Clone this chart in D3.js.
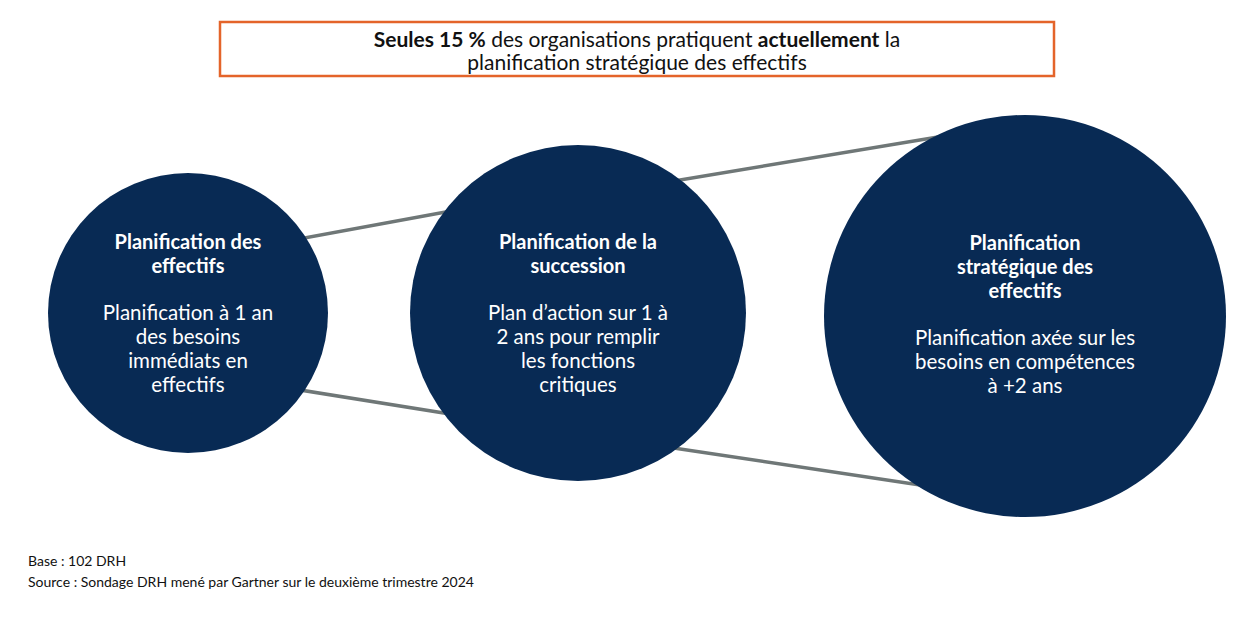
<!DOCTYPE html>
<html><head><meta charset="utf-8">
<script src="https://cdn.jsdelivr.net/npm/d3@7"></script>
<style>body{margin:0;background:#fff}</style></head>
<body><svg id="c" width="1260" height="618"></svg>
<script>
const stages = ["Planification des effectifs","Planification de la succession","Planification stratégique des effectifs"];
const titles = [["Planification des","effectifs"],["Planification de la","succession"],["Planification","stratégique des","effectifs"]];
const bodies = [["Planification à 1 an","des besoins","immédiats en","effectifs"],["Plan d’action sur 1 à","2 ans pour remplir","les fonctions","critiques"],["Planification axée sur les","besoins en compétences","à +2 ans"]];
const horizon = [1,2,3];
const cx=[188,578,1025], cy=[313,313,316], cr=[140,168,201];
const connectors=[[[250,248],[500,202]],[[620,190],[980,130]],[[250,382],[500,422]],[[620,440],[980,494]]];
const svg=d3.select("#c");
const F="Lato, 'Noto Sans', sans-serif";
svg.append("rect").attr("x",220).attr("y",22).attr("width",834).attr("height",54).attr("fill","#fff").attr("stroke","#E4642A").attr("stroke-width",2.5);
const t1=svg.append("text").attr("x",637).attr("y",47).attr("text-anchor","middle").attr("font-family",F).attr("font-size",21).attr("fill","#111");
t1.append("tspan").attr("font-weight","bold").text("Seules 15 %");
t1.append("tspan").text(" des organisations pratiquent ");
t1.append("tspan").attr("font-weight","bold").text("actuellement");
t1.append("tspan").text(" la");
svg.append("text").attr("x",637).attr("y",70).attr("text-anchor","middle").attr("font-family",F).attr("font-size",21).attr("fill","#111").text("planification stratégique des effectifs");
svg.selectAll("line.c").data(connectors).join("line").attr("x1",d=>d[0][0]).attr("y1",d=>d[0][1]).attr("x2",d=>d[1][0]).attr("y2",d=>d[1][1]).attr("stroke","#6f7777").attr("stroke-width",3.5);
const g=svg.selectAll("g.s").data(stages).join("g");
g.append("circle").attr("cx",(d,i)=>cx[i]).attr("cy",(d,i)=>cy[i]).attr("r",(d,i)=>cr[i]).attr("fill","#082A54");
g.each(function(d,i){
  const el=d3.select(this);
  titles[i].forEach((l,j)=>el.append("text").attr("x",cx[i]).attr("y",(i==2?250:249)+j*24).attr("text-anchor","middle").attr("font-family",F).attr("font-weight","bold").attr("font-size",20).attr("fill","#fff").text(l));
  const by=(i==2?345:320);
  bodies[i].forEach((l,j)=>el.append("text").attr("x",cx[i]).attr("y",by+j*24).attr("text-anchor","middle").attr("font-family",F).attr("font-size",20.5).attr("fill","#fff").text(l));
});
svg.append("text").attr("x",28).attr("y",566).attr("font-family",F).attr("font-size",14).attr("fill","#111").text("Base : 102 DRH");
svg.append("text").attr("x",28).attr("y",587).attr("font-family",F).attr("font-size",14).attr("fill","#111").text("Source : Sondage DRH mené par Gartner sur le deuxième trimestre 2024");
</script></body></html>
